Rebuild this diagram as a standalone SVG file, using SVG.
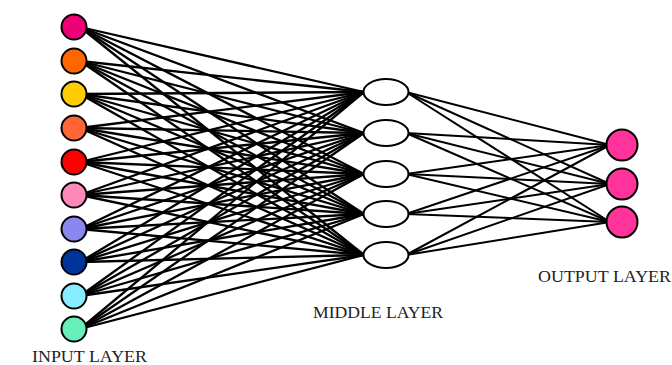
<svg xmlns="http://www.w3.org/2000/svg" width="672" height="365" viewBox="0 0 672 365">
<style>
.c line{stroke:#000;stroke-width:2.3}
.c .o{stroke-width:2}
.n{stroke:#000;stroke-width:2}
.m{fill:#fff;stroke:#000;stroke-width:2}
.t{font-family:"Liberation Serif","Times New Roman",serif;font-size:16px;fill:#222}
</style>
<rect width="672" height="365" fill="#fff"/>
<g id="connectors" class="c">
<line x1="80" y1="27" x2="364" y2="92"/><line x1="80" y1="27" x2="364" y2="133"/><line x1="80" y1="27" x2="364" y2="174"/><line x1="80" y1="27" x2="364" y2="214"/><line x1="80" y1="27" x2="364" y2="255"/>
<line x1="80" y1="61" x2="364" y2="92"/><line x1="80" y1="61" x2="364" y2="133"/><line x1="80" y1="61" x2="364" y2="174"/><line x1="80" y1="61" x2="364" y2="214"/><line x1="80" y1="61" x2="364" y2="255"/>
<line x1="80" y1="94" x2="364" y2="92"/><line x1="80" y1="94" x2="364" y2="133"/><line x1="80" y1="94" x2="364" y2="174"/><line x1="80" y1="94" x2="364" y2="214"/><line x1="80" y1="94" x2="364" y2="255"/>
<line x1="80" y1="128" x2="364" y2="92"/><line x1="80" y1="128" x2="364" y2="133"/><line x1="80" y1="128" x2="364" y2="174"/><line x1="80" y1="128" x2="364" y2="214"/><line x1="80" y1="128" x2="364" y2="255"/>
<line x1="80" y1="162" x2="364" y2="92"/><line x1="80" y1="162" x2="364" y2="133"/><line x1="80" y1="162" x2="364" y2="174"/><line x1="80" y1="162" x2="364" y2="214"/><line x1="80" y1="162" x2="364" y2="255"/>
<line x1="80" y1="195" x2="364" y2="92"/><line x1="80" y1="195" x2="364" y2="133"/><line x1="80" y1="195" x2="364" y2="174"/><line x1="80" y1="195" x2="364" y2="214"/><line x1="80" y1="195" x2="364" y2="255"/>
<line x1="80" y1="229" x2="364" y2="92"/><line x1="80" y1="229" x2="364" y2="133"/><line x1="80" y1="229" x2="364" y2="174"/><line x1="80" y1="229" x2="364" y2="214"/><line x1="80" y1="229" x2="364" y2="255"/>
<line x1="80" y1="262" x2="364" y2="92"/><line x1="80" y1="262" x2="364" y2="133"/><line x1="80" y1="262" x2="364" y2="174"/><line x1="80" y1="262" x2="364" y2="214"/><line x1="80" y1="262" x2="364" y2="255"/>
<line x1="80" y1="296" x2="364" y2="92"/><line x1="80" y1="296" x2="364" y2="133"/><line x1="80" y1="296" x2="364" y2="174"/><line x1="80" y1="296" x2="364" y2="214"/><line x1="80" y1="296" x2="364" y2="255"/>
<line x1="80" y1="329" x2="364" y2="92"/><line x1="80" y1="329" x2="364" y2="133"/><line x1="80" y1="329" x2="364" y2="174"/><line x1="80" y1="329" x2="364" y2="214"/><line x1="80" y1="329" x2="364" y2="255"/>
<line class="o" x1="406" y1="92" x2="610" y2="145"/><line class="o" x1="406" y1="92" x2="610" y2="184"/><line class="o" x1="406" y1="92" x2="610" y2="222"/>
<line class="o" x1="406" y1="133" x2="610" y2="145"/><line class="o" x1="406" y1="133" x2="610" y2="184"/><line class="o" x1="406" y1="133" x2="610" y2="222"/>
<line class="o" x1="406" y1="174" x2="610" y2="145"/><line class="o" x1="406" y1="174" x2="610" y2="184"/><line class="o" x1="406" y1="174" x2="610" y2="222"/>
<line class="o" x1="406" y1="214" x2="610" y2="145"/><line class="o" x1="406" y1="214" x2="610" y2="184"/><line class="o" x1="406" y1="214" x2="610" y2="222"/>
<line class="o" x1="406" y1="255" x2="610" y2="145"/><line class="o" x1="406" y1="255" x2="610" y2="184"/><line class="o" x1="406" y1="255" x2="610" y2="222"/>
</g>
<g id="in1"><circle class="n" cx="74" cy="27" r="12.5" fill="#ee0077"/></g>
<g id="in2"><circle class="n" cx="74" cy="61" r="12.5" fill="#ff6600"/></g>
<g id="in3"><circle class="n" cx="74" cy="94" r="12.5" fill="#ffcc00"/></g>
<g id="in4"><circle class="n" cx="74" cy="128" r="12.5" fill="#ff6633"/></g>
<g id="in5"><circle class="n" cx="74" cy="162" r="12.5" fill="#ff0000"/></g>
<g id="in6"><circle class="n" cx="74" cy="195" r="12.5" fill="#ff88bb"/></g>
<g id="in7"><circle class="n" cx="74" cy="229" r="12.5" fill="#8888ee"/></g>
<g id="in8"><circle class="n" cx="74" cy="262" r="12.5" fill="#003399"/></g>
<g id="in9"><circle class="n" cx="74" cy="296" r="12.5" fill="#88eeff"/></g>
<g id="in10"><circle class="n" cx="74" cy="329" r="12.5" fill="#66eebb"/></g>
<g id="mid1"><ellipse class="m" cx="386" cy="92" rx="22.5" ry="13"/></g>
<g id="mid2"><ellipse class="m" cx="386" cy="133" rx="22.5" ry="13"/></g>
<g id="mid3"><ellipse class="m" cx="386" cy="174" rx="22.5" ry="13"/></g>
<g id="mid4"><ellipse class="m" cx="386" cy="214" rx="22.5" ry="13"/></g>
<g id="mid5"><ellipse class="m" cx="386" cy="255" rx="22.5" ry="13"/></g>
<g id="out1"><circle class="n" cx="622" cy="145" r="15.5" fill="#ff3399"/></g>
<g id="out2"><circle class="n" cx="622" cy="184" r="15.5" fill="#ff3399"/></g>
<g id="out3"><circle class="n" cx="622" cy="222" r="15.5" fill="#ff3399"/></g>
<g id="labels">
<text class="t" x="32" y="362" textLength="115" lengthAdjust="spacingAndGlyphs">INPUT LAYER</text>
<text class="t" x="313" y="318" textLength="130" lengthAdjust="spacingAndGlyphs">MIDDLE LAYER</text>
<text class="t" x="538" y="282" textLength="133" lengthAdjust="spacingAndGlyphs">OUTPUT LAYER</text>
</g>
</svg>
